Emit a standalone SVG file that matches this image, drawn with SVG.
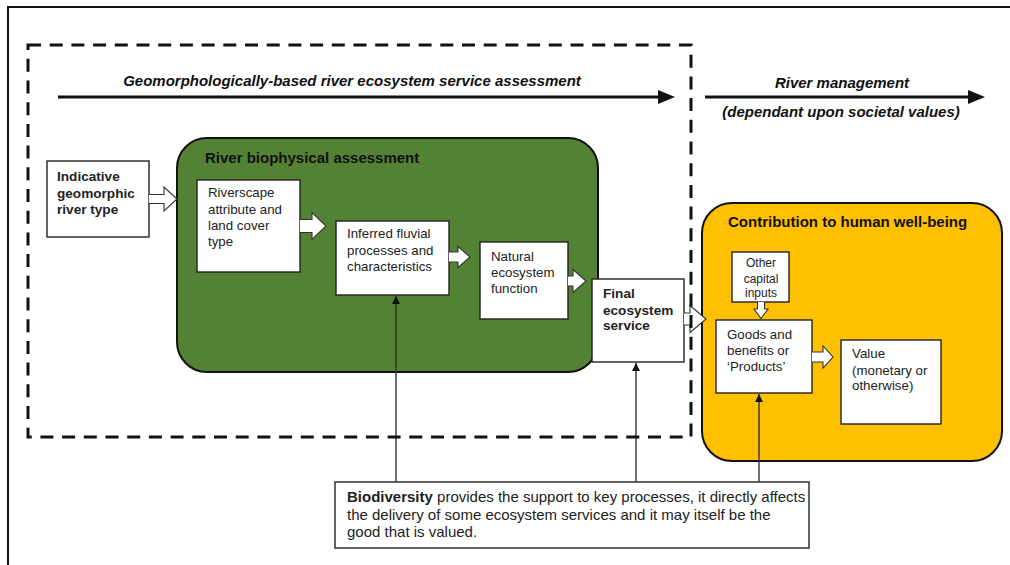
<svg xmlns="http://www.w3.org/2000/svg" width="1010" height="565" viewBox="0 0 1010 565">
  <defs>
    <style>
      .frame { fill: none; stroke: #111; stroke-width: 2; }
      .dash { fill: none; stroke: #111; stroke-width: 3; stroke-dasharray: 13 8.7; }
      .flow { fill: none; stroke: #111; stroke-width: 3; }
      .box { fill: #fff; stroke: #222; stroke-width: 1.4; }
      .blk { fill: #fff; stroke: #333; stroke-width: 1.1; stroke-linejoin: miter; }
      .link { fill: none; stroke: #333; stroke-width: 1.4; }
      .head { font-family: "Liberation Sans", Arial, sans-serif; font-weight: bold; font-style: italic; font-size: 15px; fill: #111; }
      .title { font-family: "Liberation Sans", Arial, sans-serif; font-weight: bold; font-size: 15px; fill: #111; }
      .b { font-family: "Liberation Sans", Arial, sans-serif; font-weight: bold; font-size: 13.6px; fill: #222; }
      .t { font-family: "Liberation Sans", Arial, sans-serif; font-size: 13.3px; fill: #222; }
      .s { font-family: "Liberation Sans", Arial, sans-serif; font-size: 12px; fill: #222; }
      .note { font-family: "Liberation Sans", Arial, sans-serif; font-size: 15px; fill: #222; }
    </style>
    <marker id="tip" viewBox="0 0 10 10" refX="10" refY="5" markerWidth="8" markerHeight="8" markerUnits="userSpaceOnUse" orient="auto">
      <path d="M0,0 L10,5 L0,10 Z" fill="#111"/>
    </marker>
  </defs>

  <rect width="1010" height="565" fill="#fff"/>

  <!-- outer frame (top and left edges) -->
  <path class="frame" d="M8,565 V7 H1010"/>

  <!-- process headings -->
  <g id="headings">
    <line class="flow" x1="58" y1="97" x2="660" y2="97"/>
    <path d="M658,90 L675,97 L658,104 Z" fill="#111"/>
    <text class="head" x="352" y="86" text-anchor="middle">Geomorphologically-based river ecosystem service assessment</text>
    <line class="flow" x1="705" y1="97" x2="970" y2="97"/>
    <path d="M968,90 L985,97 L968,104 Z" fill="#111"/>
    <text class="head" x="842" y="88" text-anchor="middle">River management</text>
    <text class="head" x="841" y="117" text-anchor="middle">(dependant upon societal values)</text>
  </g>

  <!-- river biophysical assessment container -->
  <g id="biophysical">
    <rect x="177" y="138" width="421" height="234" rx="30" ry="30" fill="#548235" stroke="#111" stroke-width="2"/>
    <text class="title" x="205" y="163">River biophysical assessment</text>
  </g>

  <!-- contribution to human well-being container -->
  <g id="wellbeing">
    <rect x="702" y="203" width="300" height="258" rx="30" ry="30" fill="#FFC000" stroke="#111" stroke-width="2"/>
    <text class="title" x="728" y="227">Contribution to human well-being</text>
  </g>

  <g id="river-type">
    <rect class="box" x="47" y="161" width="102" height="76"/>
    <text class="b" x="57" y="181">Indicative</text>
    <text class="b" x="57" y="198">geomorphic</text>
    <text class="b" x="57" y="214">river type</text>
  </g>

  <g id="riverscape">
    <rect class="box" x="197" y="180" width="103" height="92"/>
    <text class="t" x="208" y="197">Riverscape</text>
    <text class="t" x="208" y="214">attribute and</text>
    <text class="t" x="208" y="230">land cover</text>
    <text class="t" x="208" y="246">type</text>
  </g>

  <g id="fluvial">
    <rect class="box" x="336" y="221" width="113" height="74"/>
    <text class="t" x="347" y="238">Inferred fluvial</text>
    <text class="t" x="347" y="255">processes and</text>
    <text class="t" x="347" y="271">characteristics</text>
  </g>

  <g id="function">
    <rect class="box" x="480" y="242" width="88" height="77"/>
    <text class="t" x="491" y="261">Natural</text>
    <text class="t" x="491" y="277">ecosystem</text>
    <text class="t" x="491" y="293">function</text>
  </g>

  <g id="final-service">
    <rect class="box" x="592" y="279" width="92" height="83"/>
    <text class="b" x="603" y="298">Final</text>
    <text class="b" x="603" y="315">ecosystem</text>
    <text class="b" x="603" y="330">service</text>
  </g>

  <g id="capital">
    <rect class="box" x="732" y="252" width="57" height="50"/>
    <text class="s" x="761" y="267" text-anchor="middle">Other</text>
    <text class="s" x="761" y="283" text-anchor="middle">capital</text>
    <text class="s" x="761" y="297" text-anchor="middle">inputs</text>
  </g>

  <g id="goods">
    <rect class="box" x="716" y="320" width="96" height="73"/>
    <text class="t" x="727" y="339">Goods and</text>
    <text class="t" x="727" y="355">benefits or</text>
    <text class="t" x="727" y="371">‘Products’</text>
  </g>

  <g id="value">
    <rect class="box" x="841" y="340" width="100" height="84"/>
    <text class="t" x="852" y="358">Value</text>
    <text class="t" x="852" y="375">(monetary or</text>
    <text class="t" x="852" y="390">otherwise)</text>
  </g>

  <g id="biodiversity">
    <rect class="box" x="335" y="482" width="474" height="66"/>
    <text class="note" x="347" y="502"><tspan font-weight="bold">Biodiversity</tspan> provides the support to key processes, it directly affects</text>
    <text class="note" x="347" y="520">the delivery of some ecosystem services and it may itself be the</text>
    <text class="note" x="347" y="537">good that is valued.</text>
  </g>

  <!-- connectors: block arrows and support lines -->
  <g id="connectors">
    <path class="blk" d="M149,194.5 H164 V187 L177,199 L164,211 V203.5 H149"/>
    <path class="blk" d="M300,219.5 H312 V212.5 L326,226 L312,239.5 V232.5 H300"/>
    <path class="blk" d="M449,252 H458 V246.5 L470,257 L458,267.5 V262 H449"/>
    <path class="blk" d="M568,276 H573 V269.5 L586,281 L573,292.5 V286 H568"/>
    <path class="blk" d="M684,313 H690 V305.5 L706,319 L690,332.5 V325 H684"/>
    <path class="blk" d="M757.5,302 V309 H754 L761,318.5 L768,309 H764.5 V302"/>
    <path class="blk" d="M812,352 H823 V346 L833,357 L823,368 V362 H812"/>

    <line class="link" x1="396" y1="482" x2="396" y2="296" marker-end="url(#tip)"/>
    <line class="link" x1="636" y1="482" x2="636" y2="363" marker-end="url(#tip)"/>
    <line class="link" x1="759" y1="482" x2="759" y2="394" marker-end="url(#tip)"/>
  </g>

  <!-- assessment scope boundary -->
  <path class="dash" d="M28,45 H691 V437 H28 Z"/>
</svg>
